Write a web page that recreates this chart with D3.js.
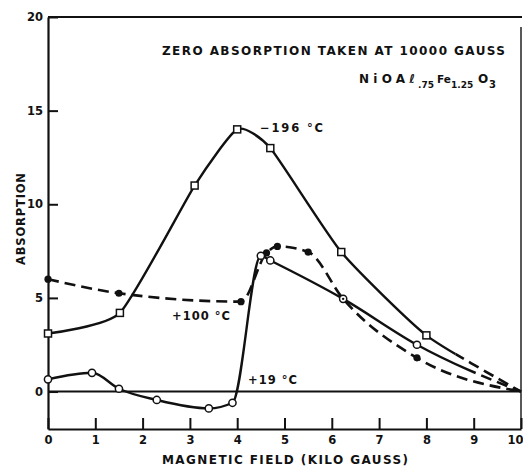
<!DOCTYPE html>
<html><head><meta charset="utf-8">
<script src="https://cdn.jsdelivr.net/npm/d3@7"></script>
<style>body{margin:0;background:#fff}svg{display:block}</style>
</head><body>
<svg id="c" width="523" height="468"></svg>
<script>
// ---- data ----
const xTicks = [0,1,2,3,4,5,6,7,8,9,10];
const yTicks = [0,5,10,15,20];
const xTitle = "MAGNETIC FIELD (KILO GAUSS)";
const yTitle = "ABSORPTION";
const noteText = "ZERO ABSORPTION TAKEN AT 10000 GAUSS";
const seriesNames = ["\u2212196 \u00b0C", "+100 \u00b0C", "+19 \u00b0C"];
const fieldM196 = [0, 1.52, 3.1, 4.0, 4.7, 6.2, 8.0, 10];
const absM196   = [3.1, 4.2, 11.0, 14.0, 13.0, 7.45, 3.0, 0];
const fieldP100 = [0, 1.5, 4.08, 4.62, 4.85, 5.5, 6.24, 7.8, 10];
const absP100   = [6.0, 5.25, 4.8, 7.4, 7.75, 7.45, 4.95, 1.8, 0];
const fieldP19  = [0, 0.93, 1.5, 2.3, 3.4, 3.9, 4.5, 4.7, 6.24, 7.8, 10];
const absP19    = [0.65, 1.0, 0.15, -0.45, -0.9, -0.6, 7.25, 7.0, 4.95, 2.5, 0];
// where each curve turns into a dashed extrapolation (field, kG)
const dashFrom = [8.62, 0, 8.9];

const svg = d3.select("#c");
const x = d3.scaleLinear().domain([0,10]).range([48,521]);
const y = d3.scaleLinear().domain([-2,20]).range([429,17]);
const font = "'DejaVu Sans', sans-serif";

// frame
const g = svg.append("g");
g.append("line").attr("x1",x(0)).attr("x2",x(10)+1).attr("y1",y(20)).attr("y2",y(20)).attr("stroke","#111").attr("stroke-width",2);
g.append("line").attr("x1",x(10)).attr("x2",x(10)).attr("y1",y(20)+10).attr("y2",y(-2)).attr("stroke","#222").attr("stroke-width",1.5);
g.append("line").attr("x1",x(0)).attr("x2",x(10)).attr("y1",y(0)).attr("y2",y(0)).attr("stroke","#111").attr("stroke-width",2);

// axes
const xa = svg.append("g").attr("transform",`translate(0,${y(-2)})`)
  .call(d3.axisBottom(x).tickValues(xTicks).tickSizeInner(-11).tickSizeOuter(0).tickPadding(7).tickFormat(d3.format("d")));
const ya = svg.append("g").attr("transform",`translate(${x(0)},0)`)
  .call(d3.axisLeft(y).tickValues(yTicks).tickSizeInner(-10).tickSizeOuter(0).tickPadding(5).tickFormat(d3.format("d")));
[xa,ya].forEach(a=>{
  a.select(".domain").attr("stroke","#111").attr("stroke-width",2.2);
  a.selectAll(".tick line").attr("stroke","#111").attr("stroke-width",2);
  a.selectAll(".tick text").attr("fill","#111").style("font-family",font).style("font-weight","bold").style("font-size","11.5px");
});
// last x tick label sits at the right edge: keep it inside the picture
xa.selectAll(".tick text").filter(d=>d===10).attr("text-anchor","end").attr("x",2);

// titles
svg.append("text").attr("x",162).attr("y",464).attr("textLength",246).attr("lengthAdjust","spacing")
  .style("font-family",font).style("font-weight","bold").style("font-size","12px").attr("fill","#111").text(xTitle);
svg.append("text").attr("transform","translate(25,265) rotate(-90)").attr("textLength",92).attr("lengthAdjust","spacing")
  .style("font-family",font).style("font-weight","bold").style("font-size","11.5px").attr("fill","#111").text(yTitle);
svg.append("text").attr("x",162).attr("y",55).attr("textLength",343).attr("lengthAdjust","spacing")
  .style("font-family",font).style("font-weight","bold").style("font-size","12px").attr("fill","#111").text(noteText);

// formula NiOAl.75 Fe1.25 O3
const f = svg.append("text").attr("y",83).style("font-family",font).style("font-weight","bold").style("font-size","12px").attr("fill","#111");
f.append("tspan").attr("x",359).attr("textLength",56).attr("lengthAdjust","spacing").text("NiOA\u2113");
f.append("tspan").attr("x",418).attr("dy",5).style("font-size","9px").text(".75");
f.append("tspan").attr("x",437).attr("dy",-5).style("font-size","10.5px").text("Fe");
f.append("tspan").attr("x",451).attr("dy",5).style("font-size","9px").text("1.25");
f.append("tspan").attr("x",478).attr("dy",-5).text("O");
f.append("tspan").attr("x",489).attr("dy",5).style("font-size","10px").text("3");

// curves
const series = [
  {pts: d3.zip(fieldM196, absM196), curve: d3.curveCardinal.tension(0.45)},
  {pts: d3.zip(fieldP100, absP100), curve: d3.curveMonotoneX},
  {pts: d3.zip(fieldP19, absP19), curve: d3.curveMonotoneX}
];
const defs = svg.append("defs");
series.forEach((s,i)=>{
  const cx = x(dashFrom[i]);
  defs.append("clipPath").attr("id","solid"+i).append("rect").attr("x",0).attr("y",0).attr("width",cx).attr("height",468);
  defs.append("clipPath").attr("id","dash"+i).append("rect").attr("x",cx).attr("y",0).attr("width",523-cx).attr("height",468);
  const line = d3.line().x(d=>x(d[0])).y(d=>y(d[1])).curve(s.curve);
  const dd = line(s.pts);
  svg.append("path").attr("d",dd).attr("fill","none").attr("stroke","#111").attr("stroke-width",2.4)
    .attr("clip-path",`url(#solid${i})`);
  svg.append("path").attr("d",dd).attr("fill","none").attr("stroke","#111").attr("stroke-width",2.6)
    .attr("stroke-dasharray","11,6").attr("clip-path",`url(#dash${i})`);
});

// markers (skip the (10,0) zero reference)
const mg = svg.append("g");
const meas = s => s.pts.filter(d=>d[0] < 10);
mg.selectAll("circle.dot").data(meas(series[1])).join("circle").attr("class","dot")
  .attr("cx",d=>x(d[0])).attr("cy",d=>y(d[1])).attr("r",3.6).attr("fill","#111");
mg.selectAll("circle.open").data(meas(series[2])).join("circle").attr("class","open")
  .attr("cx",d=>x(d[0])).attr("cy",d=>y(d[1])).attr("r",3.6).attr("fill","#fff").attr("stroke","#111").attr("stroke-width",1.5);
// where a +100 reading coincides with a +19 reading, show a dot inside the circle
const shared = meas(series[1]).filter(a=>meas(series[2]).some(b=>b[0]===a[0]&&b[1]===a[1]));
mg.selectAll("circle.shared").data(shared).join("circle").attr("class","shared")
  .attr("cx",d=>x(d[0])).attr("cy",d=>y(d[1])).attr("r",1.2).attr("fill","#111");
mg.selectAll("rect.sq").data(meas(series[0])).join("rect").attr("class","sq")
  .attr("x",d=>x(d[0])-3.5).attr("y",d=>y(d[1])-3.5).attr("width",7).attr("height",7)
  .attr("fill","#fff").attr("stroke","#111").attr("stroke-width",1.5);

// series labels
const labelPos = [[260,131.7,63],[172,320,58],[248,384,49]];
seriesNames.forEach((t,i)=>{
  const [lx,ly,lw] = labelPos[i];
  svg.append("text").attr("x",lx).attr("y",ly).attr("textLength",lw).attr("lengthAdjust","spacing")
    .style("font-family",font).style("font-weight","bold").style("font-size","11.5px").attr("fill","#111").text(t);
});
</script>
</body></html>
